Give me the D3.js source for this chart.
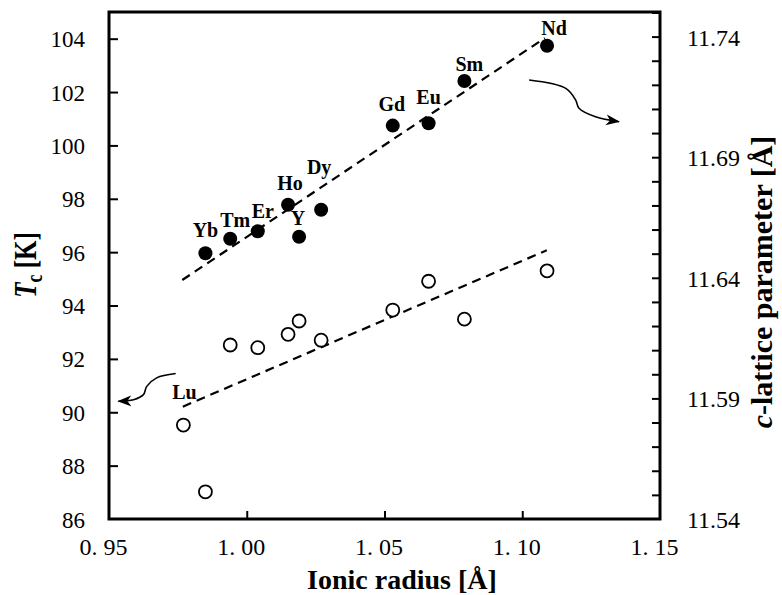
<!DOCTYPE html>
<html><head><meta charset="utf-8">
<script src="https://cdn.jsdelivr.net/npm/d3@7"></script>
<style>
body{margin:0;background:#fff;}
svg text{font-family:'Liberation Serif','DejaVu Serif',serif;}
</style></head>
<body><svg id="c" width="782" height="595" style="font-family:'Liberation Serif','DejaVu Serif',serif"></svg>
<script>
// ---- data ----
const elements   = ["Lu","Yb","Tm","Er","Ho","Y","Dy","Gd","Eu","Sm","Nd"];
const ionicRadius= [0.977,0.985,0.994,1.004,1.015,1.019,1.027,1.053,1.066,1.079,1.109];
const tcValues   = [89.52,87.02,92.52,92.42,92.92,93.42,92.70,93.83,94.91,93.49,95.30];
const cElements  = ["Yb","Tm","Er","Ho","Y","Dy","Gd","Eu","Sm","Nd"];
const cRadius    = [0.985,0.994,1.004,1.015,1.019,1.027,1.053,1.066,1.079,1.109];
const cValues    = [11.6502,11.6562,11.6593,11.6703,11.6570,11.6682,11.7031,11.7041,11.7216,11.7362];
const tcFit      = [[0.9768,90.21],[1.1089,96.07]];
const cFit       = [[0.9766,11.6391],[1.1082,11.7394]];
const xTicks     = [0.95,1.00,1.05,1.10,1.15];
const xTickLabels= ["0. 95","1. 00","1. 05","1. 10","1. 15"];
const yLTicks    = [86,88,90,92,94,96,98,100,102,104];
const yRMajor    = [11.54,11.59,11.64,11.69,11.74];
const yRMinor    = d3.range(0,22).map(i=>+(11.54+i*0.01).toFixed(2));
// annotation arrows (data coords, x = ionic radius, y = Tc units)
const arrowC  = [[1.1025,102.45],[1.1158,102.14],[1.1194,101.70],[1.1206,101.39],[1.1266,101.07],[1.1351,100.89]];
const arrowTc = [[0.9742,91.45],[0.9673,91.29],[0.9637,90.97],[0.9625,90.66],[0.9589,90.47],[0.9534,90.41]];
// label layout offsets (px)
const labelOff = {Lu:[1,-26],Yb:[0,-16],Tm:[5,-12],Er:[5,-13],Ho:[2,-15],Y:[-1,-11.5],Dy:[-2,-36],Gd:[-1,-15],Eu:[0,-19],Sm:[5,-9.5],Nd:[7,-11]};

const FONT = "'Liberation Serif','DejaVu Serif',serif";
const svg = d3.select("#c");
const L=109,R=660,T=12,B=519;
const x  = d3.scaleLinear([0.95,1.15],[L,R]);
const yL = d3.scaleLinear([86,105],[B,T]);
const yR = d3.scaleLinear([11.54,11.7502],[B,T]);

const defs = svg.append("defs");
defs.append("marker").attr("id","ah").attr("viewBox","0 -6 14 12").attr("refX",13).attr("refY",0)
  .attr("markerWidth",14).attr("markerHeight",12).attr("markerUnits","userSpaceOnUse").attr("orient","auto")
  .append("path").attr("d","M0,-5.5 L14,0 L0,5.5 L4,0 Z").attr("fill","#000");

// axes
const gx = svg.append("g").attr("transform",`translate(0,${B})`)
  .call(d3.axisBottom(x).tickValues(xTicks).tickSize(-8).tickPadding(19).tickFormat((d,i)=>xTickLabels[i]));
const gl = svg.append("g").attr("transform",`translate(${L},0)`)
  .call(d3.axisLeft(yL).tickValues(yLTicks).tickSize(-9).tickPadding(24).tickFormat(d3.format("d")));
const gr = svg.append("g").attr("transform",`translate(${R},0)`)
  .call(d3.axisRight(yR).tickValues(yRMinor).tickSize(-8).tickPadding(27).tickFormat(d=>yRMajor.some(v=>Math.abs(v-d)<1e-6)?d.toFixed(2):""));
[gx,gl,gr].forEach(g=>{
  g.attr("font-family",FONT).attr("font-size",null);
  g.select(".domain").remove();
  g.selectAll(".tick line").attr("stroke","#000").attr("stroke-width",2);
  g.selectAll(".tick text").attr("font-family",FONT).style("font-family",FONT).attr("fill","#000");
});
gx.selectAll(".tick text").style("font-size","24px").attr("dx",-6);
gl.selectAll(".tick text").style("font-size","23px").attr("dy","0.35em");
gr.selectAll(".tick text").style("font-size","24px").attr("dy","0.35em");
gx.selectAll(".tick").filter(d=>d===0.95||d===1.15).select("line").remove();
gl.selectAll(".tick").filter(d=>d===86).select("line").remove();
gr.selectAll(".tick").filter((d,i)=>i===0).select("line").remove();

// frame
svg.append("rect").attr("x",L).attr("y",T).attr("width",R-L).attr("height",B-T)
  .attr("fill","none").attr("stroke","#000").attr("stroke-width",3);

// fits
const lineL = d3.line().x(d=>x(d[0])).y(d=>yL(d[1]));
const lineR = d3.line().x(d=>x(d[0])).y(d=>yR(d[1]));
svg.append("path").attr("d",lineL(tcFit)).attr("fill","none").attr("stroke","#000").attr("stroke-width",2.2).attr("stroke-dasharray","9,6");
svg.append("path").attr("d",lineR(cFit)).attr("fill","none").attr("stroke","#000").attr("stroke-width",2.2).attr("stroke-dasharray","9,6");

// points
svg.append("g").selectAll("circle").data(ionicRadius).join("circle")
  .attr("cx",d=>x(d)).attr("cy",(d,i)=>yL(tcValues[i])).attr("r",6.5)
  .attr("fill","#fff").attr("stroke","#000").attr("stroke-width",1.8);
svg.append("g").selectAll("circle").data(cRadius).join("circle")
  .attr("cx",d=>x(d)).attr("cy",(d,i)=>yR(cValues[i])).attr("r",7).attr("fill","#000");

// labels
const lab = svg.append("g").style("font-family",FONT).style("font-size","20px").style("font-weight","bold").attr("text-anchor","middle");
cElements.forEach((e,i)=>{
  const o=labelOff[e];
  lab.append("text").attr("x",x(cRadius[i])+o[0]).attr("y",yR(cValues[i])+o[1]).text(e);
});
lab.append("text").attr("x",x(ionicRadius[0])+labelOff.Lu[0]).attr("y",yL(tcValues[0])+labelOff.Lu[1]).text("Lu");

// arrows
const curve = d3.line().x(d=>x(d[0])).y(d=>yL(d[1])).curve(d3.curveCatmullRom);
svg.append("path").attr("d",curve(arrowC)).attr("fill","none").attr("stroke","#000").attr("stroke-width",1.6).attr("marker-end","url(#ah)");
svg.append("path").attr("d",curve(arrowTc)).attr("fill","none").attr("stroke","#000").attr("stroke-width",1.6).attr("marker-end","url(#ah)");

// titles
svg.append("text").attr("x",402).attr("y",589).attr("text-anchor","middle")
  .style("font-family",FONT).style("font-size","28px").style("font-weight","bold").text("Ionic radius [Å]");
const tl = svg.append("text").attr("transform","translate(36,265) rotate(-90) scale(1,1.25)").attr("text-anchor","middle")
  .style("font-family",FONT).style("font-size","25px").style("font-weight","bold");
tl.append("tspan").style("font-style","italic").text("T");
tl.append("tspan").attr("dy",5).style("font-size","18px").text("c");
tl.append("tspan").attr("dy",-5).text(" [K]");
const tr = svg.append("text").attr("transform","translate(772,282) rotate(-90)").attr("text-anchor","middle")
  .style("font-family",FONT).style("font-size","30px").style("font-weight","bold");
tr.append("tspan").style("font-style","italic").text("c");
tr.append("tspan").text("-lattice parameter [Å]");
</script></body></html>
